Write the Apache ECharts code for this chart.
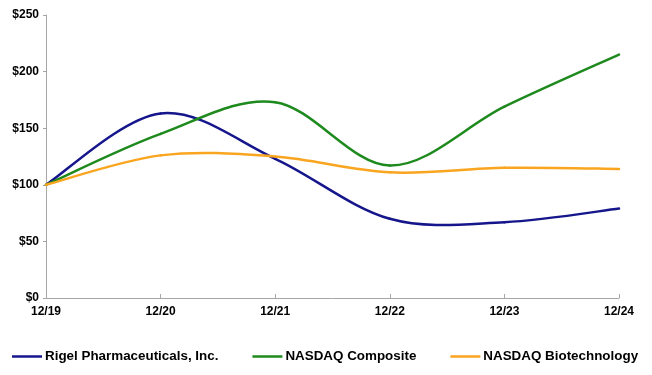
<!DOCTYPE html>
<html>
<head>
<meta charset="utf-8">
<script src="https://cdn.jsdelivr.net/npm/echarts@6/dist/echarts.min.js"></script>
<style>
html, body { margin: 0; padding: 0; background: #fff; }
#chartDiv { width: 652px; height: 375px; }
</style>
</head>
<body>
<div id="chartDiv"></div>
<script>
// years on the x axis
const years = ['12/19', '12/20', '12/21', '12/22', '12/23', '12/24'];
// cumulative value of $100 invested
const rigel = [100, 163, 123, 70, 67, 79];
const nasdaqComposite = [100, 145, 173, 117, 169, 215];
const nasdaqBiotech = [100, 126, 125, 111, 115, 114];

let chart = echarts.init(document.getElementById('chartDiv'));

const font = 'Arial, "Liberation Sans", sans-serif';

// smoothed line like the spreadsheet one: each segment is a bezier through
// neighbouring points (catmull-rom), positions come from api.coord
let smoothSeries = (name, data, color) => ({
	name: name,
	type: 'custom',
	data: data.map((v, i) => [i, v]),
	encode: { x: 0, y: 1 },
	itemStyle: { color: color },
	renderItem: (params, api) => {
		let i = params.dataIndex
		if (i >= data.length - 1) return null
		let pt = (k) => {
			k = Math.max(0, Math.min(data.length - 1, k))
			return api.coord([k, data[k]])
		}
		let p0 = pt(i - 1), p1 = pt(i), p2 = pt(i + 1), p3 = pt(i + 2)
		return {
			type: 'bezierCurve',
			shape: {
				x1: p1[0], y1: p1[1],
				x2: p2[0], y2: p2[1],
				cpx1: p1[0] + (p2[0] - p0[0]) / 6, cpy1: p1[1] + (p2[1] - p0[1]) / 6,
				cpx2: p2[0] - (p3[0] - p1[0]) / 6, cpy2: p2[1] - (p3[1] - p1[1]) / 6
			},
			style: { fill: null, stroke: color, lineWidth: 2.5, lineCap: 'round' }
		}
	}
});

let option = {
	animation: false,
	grid: { left: 46, right: 33, top: 15, bottom: 77 },
	legend: {
		bottom: 12,
		left: 12,
		padding: 0,
		itemWidth: 30,
		itemHeight: 2.5,
		itemGap: 34,
		icon: 'rect',
		textStyle: { fontFamily: font, fontSize: 13.4, fontWeight: 'bold', color: '#000', padding: [0, 0, 0, -2] },
		data: ['Rigel Pharmaceuticals, Inc.', 'NASDAQ Composite', 'NASDAQ Biotechnology']
	},
	xAxis: {
		type: 'category',
		boundaryGap: false,
		data: years,
		axisLine: { lineStyle: { color: '#a6a6a6', width: 1 } },
		axisTick: { inside: true, length: 4, lineStyle: { color: '#a6a6a6' } },
		axisLabel: { fontFamily: font, fontWeight: 'bold', fontSize: 12, color: '#000', margin: 8 }
	},
	yAxis: {
		type: 'value',
		min: 0,
		max: 250,
		interval: 50,
		splitLine: { show: false },
		axisLine: { show: true, lineStyle: { color: '#a6a6a6', width: 1 } },
		axisTick: { show: true, length: 3, lineStyle: { color: '#a6a6a6' } },
		axisLabel: {
			fontFamily: font, fontWeight: 'bold', fontSize: 12, color: '#000', margin: 7,
			formatter: (v) => '$' + v
		}
	},
	series: [
		smoothSeries('Rigel Pharmaceuticals, Inc.', rigel, '#16168c'),
		smoothSeries('NASDAQ Composite', nasdaqComposite, '#1e8a1e'),
		smoothSeries('NASDAQ Biotechnology', nasdaqBiotech, '#f9a51f')
	]
};

chart.setOption(option);
</script>
</body>
</html>
